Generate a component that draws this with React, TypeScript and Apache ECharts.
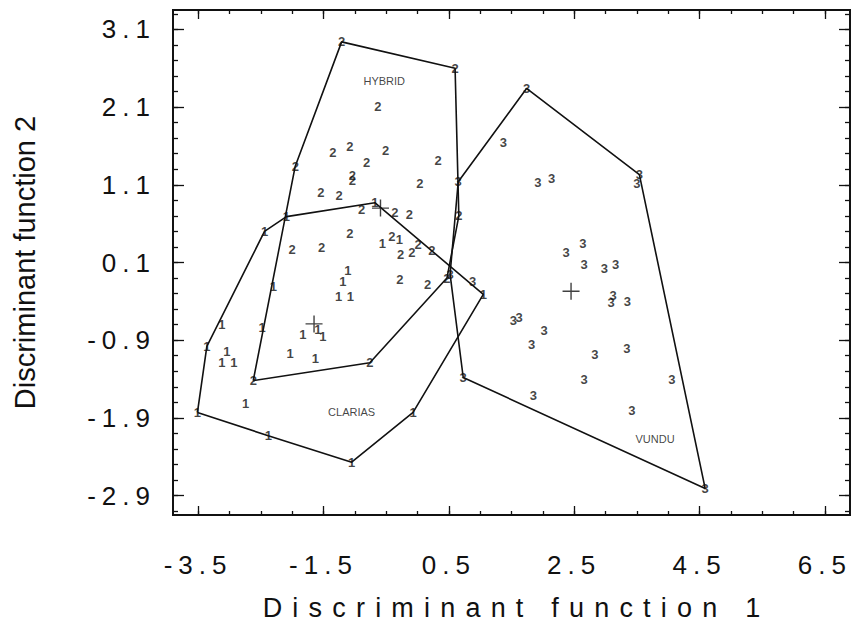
import React, { useEffect, useRef } from "react";
import * as echarts from "echarts";

// ---------- data ----------
const groupDigits = ["1", "2", "3"];
const groupNames = ["CLARIAS", "HYBRID", "VUNDU"];

const clariasPoints: [number, number][] = [
  [-2.44, 0.5], [-2.09, 0.69], [-0.68, 0.87], [-0.56, 0.34], [-0.29, 0.4],
  [-1.11, 0.0], [-1.19, -0.15], [-1.26, -0.34], [-1.07, -0.34], [-1.83, -0.83],
  [-1.59, -0.76], [-1.51, -0.85], [-2.03, -1.07], [-1.63, -1.14], [-3.12, -0.7],
  [-3.36, -0.98], [-3.04, -1.04], [-3.12, -1.19], [-2.93, -1.19], [-2.74, -1.71],
  [-3.51, -1.83], [-2.38, -2.13], [-1.05, -2.47], [-0.07, -1.83], [1.05, -0.31],
  [-2.3, -0.21], [-2.48, -0.74],
];

const hybridPoints: [number, number][] = [
  [-1.21, 2.94], [0.6, 2.6], [-0.63, 2.11], [-1.95, 1.34], [-1.35, 1.51],
  [-1.08, 1.59], [-0.51, 1.54], [-0.81, 1.39], [0.33, 1.41], [-1.04, 1.22],
  [-1.04, 1.15], [0.04, 1.12], [-1.54, 1.0], [-1.25, 0.96], [0.66, 0.7],
  [-0.89, 0.78], [-0.36, 0.74], [-0.13, 0.72], [-1.08, 0.47], [-2.0, 0.27],
  [-1.53, 0.29], [-0.41, 0.43], [-0.27, 0.2], [-0.09, 0.23], [0.01, 0.33],
  [0.23, 0.25], [-0.28, -0.12], [0.16, -0.18], [0.47, -0.1], [-0.76, -1.19],
  [-2.62, -1.42],
];

const vunduPoints: [number, number][] = [
  [1.74, 2.34], [1.37, 1.64], [0.65, 1.14], [1.92, 1.13], [2.14, 1.18],
  [3.54, 1.23], [3.5, 1.12], [2.37, 0.23], [2.64, 0.34], [2.66, 0.08],
  [2.98, 0.02], [3.16, 0.08], [3.12, -0.32], [3.09, -0.41], [3.35, -0.4],
  [0.88, -0.15], [0.52, -0.05], [1.53, -0.65], [1.62, -0.61], [2.02, -0.77],
  [1.82, -0.95], [2.83, -1.08], [3.34, -1.01], [0.73, -1.38], [2.66, -1.4],
  [4.06, -1.4], [1.85, -1.61], [3.42, -1.8], [4.59, -2.81],
];

const centroids: [number, number][] = [[-1.65, -0.69], [-0.59, 0.8], [2.45, -0.27]];
const groupNamePositions: [number, number][] = [[-1.05, -1.82], [-0.53, 2.44], [3.79, -2.17]];

const xMajorTicks = [-3.5, -1.5, 0.5, 2.5, 4.5, 6.5];
const xMinorTicks = [
  -3.5, -3.0, -2.5, -2.0, -1.5, -1.0, -0.5, 0.0, 0.5, 1.0, 1.5, 2.0, 2.5, 3.0,
  3.5, 4.0, 4.5, 5.0, 5.5, 6.0, 6.5,
];
const yMajorTicks = [-2.9, -1.9, -0.9, 0.1, 1.1, 2.1, 3.1];
const yMinorTicks = [
  -3.1, -2.9, -2.7, -2.5, -2.3, -2.1, -1.9, -1.7, -1.5, -1.3, -1.1, -0.9, -0.7,
  -0.5, -0.3, -0.1, 0.1, 0.3, 0.5, 0.7, 0.9, 1.1, 1.3, 1.5, 1.7, 1.9, 2.1, 2.3,
  2.5, 2.7, 2.9, 3.1, 3.3,
];

const X_MIN = -3.9;
const X_MAX = 6.9;
const Y_MIN = -3.15;
const Y_MAX = 3.35;

const INK = "#111111";

function convexHull(pts: [number, number][]): [number, number][] {
  const p = pts.slice().sort((a, b) => (a[0] - b[0]) || (a[1] - b[1]));
  const cross = (o: number[], a: number[], b: number[]) =>
    (a[0] - o[0]) * (b[1] - o[1]) - (a[1] - o[1]) * (b[0] - o[0]);
  const lower: [number, number][] = [];
  for (const q of p) {
    while (lower.length >= 2 && cross(lower[lower.length - 2], lower[lower.length - 1], q) <= 0) lower.pop();
    lower.push(q);
  }
  const upper: [number, number][] = [];
  for (let i = p.length - 1; i >= 0; i--) {
    const q = p[i];
    while (upper.length >= 2 && cross(upper[upper.length - 2], upper[upper.length - 1], q) <= 0) upper.pop();
    upper.push(q);
  }
  const hull = lower.slice(0, -1).concat(upper.slice(0, -1));
  hull.push(hull[0]);
  return hull;
}

const css = `
.dfchart text[style*="spacedtick"], .dfchart text[font-family*="spacedtick"] { letter-spacing: 6px; }
.dfchart text[style*="spacedtitle"], .dfchart text[font-family*="spacedtitle"] { letter-spacing: 10.2px; }
`;

export default function App() {
  const ref = useRef<HTMLDivElement>(null);

  useEffect(() => {
    if (!ref.current) return;
    const chart = echarts.init(ref.current, null, { renderer: "svg" });

    const axisLine = { show: true, onZero: false, lineStyle: { color: INK, width: 1.8 } };
    const tickLine = { color: INK, width: 1.3 };

    const xAxisBase = {
      type: "value" as const,
      min: X_MIN,
      max: X_MAX,
      splitLine: { show: false },
      axisLine,
    };
    const yAxisBase = {
      type: "value" as const,
      min: Y_MIN,
      max: Y_MAX,
      splitLine: { show: false },
      axisLine,
    };

    const groups = [clariasPoints, hybridPoints, vunduPoints];

    const series: any[] = [];
    groups.forEach((pts, gi) => {
      series.push({
        type: "line",
        data: convexHull(pts),
        symbol: "none",
        silent: true,
        lineStyle: { color: INK, width: 1.6 },
        z: 2,
      });
      series.push({
        type: "scatter",
        data: pts,
        symbol: "circle",
        symbolSize: 1,
        silent: true,
        itemStyle: { color: "rgba(0,0,0,0)" },
        label: {
          show: true,
          position: "inside",
          formatter: groupDigits[gi],
          color: INK,
          fontSize: 13,
          fontWeight: "bold",
          fontFamily: "Liberation Sans",
        },
        z: 3,
      });
    });

    series.push({
      type: "scatter",
      data: centroids,
      symbol: "path://M10,0 L10,20 M0,10 L20,10",
      symbolSize: 17,
      silent: true,
      itemStyle: { color: "rgba(0,0,0,0)", borderColor: INK, borderWidth: 1.4 },
      z: 4,
    });

    series.push({
      type: "scatter",
      data: groupNamePositions.map((p, i) => ({ value: p, name: groupNames[i] })),
      symbolSize: 1,
      silent: true,
      itemStyle: { color: "rgba(0,0,0,0)" },
      label: {
        show: true,
        position: "inside",
        formatter: "{b}",
        color: INK,
        fontSize: 11,
        fontFamily: "Liberation Sans",
      },
      z: 4,
    });

    chart.setOption({
      animation: false,
      backgroundColor: "#ffffff",
      grid: { left: 173, right: 3, top: 10, bottom: 114, containLabel: false },
      xAxis: [
        {
          ...xAxisBase,
          position: "bottom",
          name: "Discriminant function 1",
          nameLocation: "middle",
          nameGap: 79,
          nameTextStyle: {
            fontSize: 27,
            color: INK,
            fontFamily: "Liberation Sans, spacedtitle",
            padding: [0, 0, 0, 10],
          },
          axisTick: { show: true, inside: true, length: 9, customValues: xMajorTicks, lineStyle: tickLine },
          axisLabel: {
            show: true,
            customValues: xMajorTicks,
            formatter: (v: number) => Number(v).toFixed(1),
            margin: 37,
            fontSize: 26,
            color: INK,
            fontFamily: "Liberation Sans, spacedtick",
          },
        },
        {
          ...xAxisBase,
          position: "bottom",
          axisTick: { show: true, inside: true, length: 4, customValues: xMinorTicks, lineStyle: tickLine },
          axisLabel: { show: false },
        },
        {
          ...xAxisBase,
          position: "top",
          axisTick: { show: true, inside: true, length: 9, customValues: xMajorTicks, lineStyle: tickLine },
          axisLabel: { show: false },
        },
        {
          ...xAxisBase,
          position: "top",
          axisTick: { show: true, inside: true, length: 4, customValues: xMinorTicks, lineStyle: tickLine },
          axisLabel: { show: false },
        },
      ],
      yAxis: [
        {
          ...yAxisBase,
          position: "left",
          name: "Discriminant function 2",
          nameLocation: "middle",
          nameGap: 134,
          nameRotate: 90,
          nameTextStyle: { fontSize: 29, color: INK, fontFamily: "Liberation Sans" },
          axisTick: { show: true, inside: true, length: 11, customValues: yMajorTicks, lineStyle: tickLine },
          axisLabel: {
            show: true,
            customValues: yMajorTicks,
            formatter: (v: number) => Number(v).toFixed(1),
            margin: 17,
            fontSize: 26,
            color: INK,
            fontFamily: "Liberation Sans, spacedtick",
          },
        },
        {
          ...yAxisBase,
          position: "left",
          axisTick: { show: true, inside: true, length: 5, customValues: yMinorTicks, lineStyle: tickLine },
          axisLabel: { show: false },
        },
        {
          ...yAxisBase,
          position: "right",
          axisTick: { show: true, inside: true, length: 11, customValues: yMajorTicks, lineStyle: tickLine },
          axisLabel: { show: false },
        },
        {
          ...yAxisBase,
          position: "right",
          axisTick: { show: true, inside: true, length: 5, customValues: yMinorTicks, lineStyle: tickLine },
          axisLabel: { show: false },
        },
      ],
      series,
    });

    return () => chart.dispose();
  }, []);

  return (
    <>
      <style>{css}</style>
      <div
        ref={ref}
        className="dfchart"
        style={{ position: "fixed", left: 0, top: 0, width: 853, height: 629, background: "#fff" }}
      />
    </>
  );
}
